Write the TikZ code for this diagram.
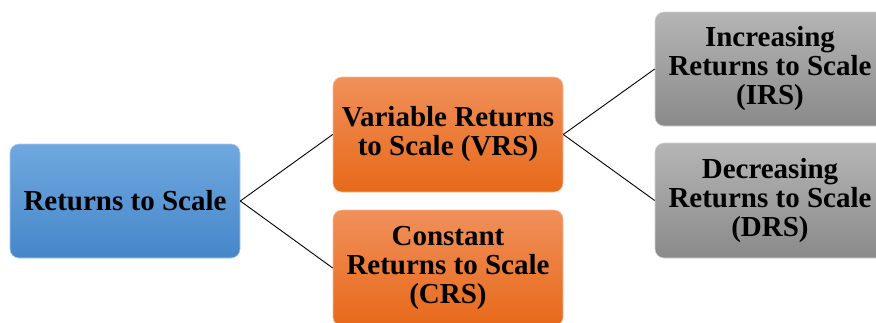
\documentclass[tikz,border=0pt]{standalone}
\usepackage{fontspec}
\setmainfont{Liberation Serif}
\begin{document}
\begin{tikzpicture}[x=1pt,y=-1pt,
  box/.style={rounded corners=9pt, minimum width=230pt, inner sep=0pt, align=center,
    font=\fontsize{29}{29}\selectfont\bfseries},
  bluebox/.style={box, top color=blue1, bottom color=blue2, draw=blue1!60!white, line width=0.6pt},
  orangebox/.style={box, top color=orange1, bottom color=orange2, draw=orange1!60!white, line width=0.6pt},
  graybox/.style={box, top color=gray1, bottom color=gray2, draw=gray1!60!white, line width=0.6pt},
  link/.style={draw=black, line width=0.9pt}]
\definecolor{blue1}{HTML}{6FA8DF}
\definecolor{blue2}{HTML}{4686C9}
\definecolor{orange1}{HTML}{F0905A}
\definecolor{orange2}{HTML}{E7691A}
\definecolor{gray1}{HTML}{B5B5B5}
\definecolor{gray2}{HTML}{8A8A8A}
\useasboundingbox (0,0) rectangle (876,322);
\clip (0,0) rectangle (876,322);
\node[bluebox, minimum height=114pt] (rts) at (125,201) {Returns to Scale};
\node[orangebox, minimum height=115pt] (vrs) at (448,134.5) {Variable Returns\\to Scale (VRS)};
\node[orangebox, minimum height=116pt] (crs) at (448,268) {Constant\\Returns to Scale\\(CRS)};
\node[graybox, minimum height=114pt] (irs) at (770,69) {Increasing\\Returns to Scale\\(IRS)};
\node[graybox, minimum height=115pt] (drs) at (770,200.5) {Decreasing\\Returns to Scale\\(DRS)};
\draw[link] (rts.east) -- (vrs.west);
\draw[link] (rts.east) -- (crs.west);
\draw[link] (vrs.east) -- (irs.west);
\draw[link] (vrs.east) -- (drs.west);
\end{tikzpicture}
\end{document}
